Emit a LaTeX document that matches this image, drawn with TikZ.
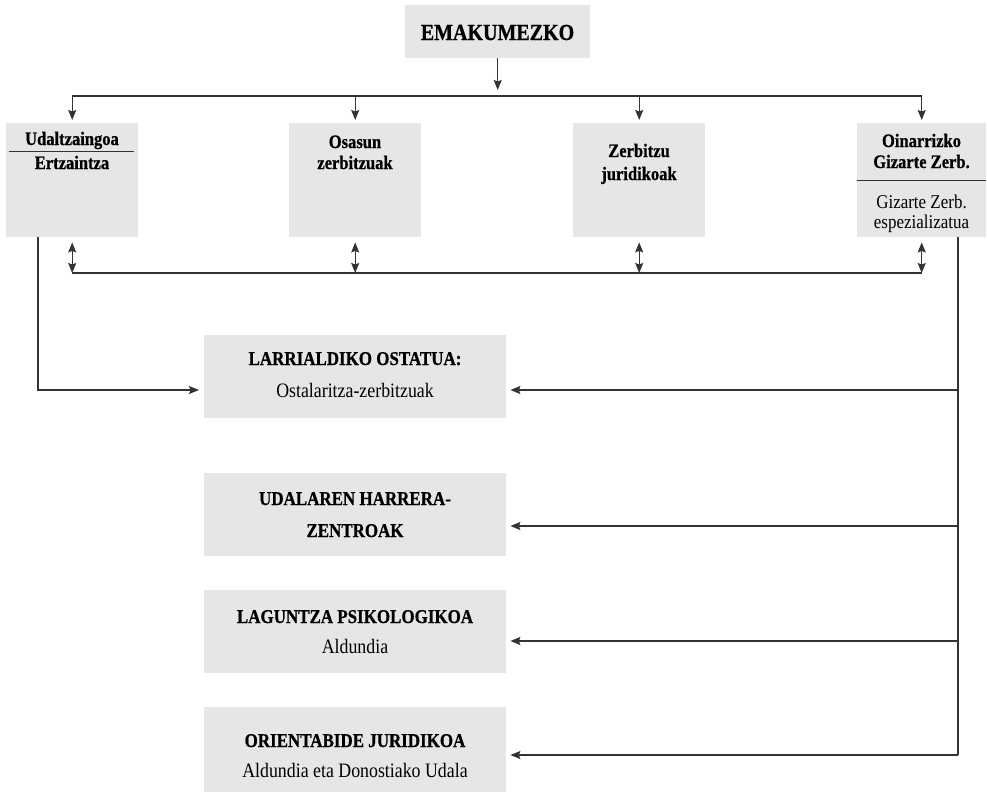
\documentclass[tikz,border=0pt]{standalone}
\usepackage{fontspec}
\setmainfont{Liberation Serif}[FakeStretch=0.87, BoldFeatures={FakeBold=0.7}]
\usetikzlibrary{arrows.meta}
\definecolor{boxgray}{HTML}{E6E6E6}
\definecolor{linegray}{HTML}{333333}
\begin{document}
\begin{tikzpicture}[x=1pt,y=-1pt,
  boxbg/.style={fill=boxgray, draw=none, inner sep=0pt, anchor=north west},
  topbox/.style={boxbg, minimum width=132pt, minimum height=114pt},
  lowbox/.style={boxbg, minimum width=302pt, minimum height=83pt},
  tbold/.style={font=\fontsize{19}{22}\selectfont\bfseries, inner sep=0pt, anchor=base},
  treg/.style={font=\fontsize{19.5}{22}\selectfont, inner sep=0pt, anchor=base},
  lbold/.style={font=\fontsize{19.5}{22}\selectfont\bfseries, inner sep=0pt, anchor=base},
  lreg/.style={font=\fontsize{20.5}{23}\selectfont, inner sep=0pt, anchor=base},
  conn/.style={draw=linegray, line width=1.2pt},
  tip/.style={-{Stealth[length=10pt,width=8pt,inset=1.5pt]}},
  dbl/.style={{Stealth[length=10pt,width=8pt,inset=1.5pt]}-{Stealth[length=10pt,width=8pt,inset=1.5pt]}},
  sep/.style={draw=linegray, line width=1pt}
  ]
\useasboundingbox (0,0) rectangle (987,803);

% top box
\node[boxbg, minimum width=185pt, minimum height=53pt] (emak) at (405,5) {};
\node[tbold, font=\fontsize{23}{26}\selectfont\bfseries] (emaktxt) at (497.5,40) {EMAKUMEZKO};

% four service boxes
\node[topbox] (b1) at (6,123) {};
\node[topbox] (b2) at (289,123) {};
\node[topbox] (b3) at (573,123) {};
\node[topbox, minimum width=129pt] (b4) at (857,123) {};

\node[tbold] (b1t1) at (72,145) {Udaltzaingoa};
\coordinate (s1a) at (9,151);
\coordinate (s1b) at (134,151);
\draw[sep] (s1a) -- (s1b);
\node[tbold] (b1t2) at (72,169) {Ertzaintza};

\node[tbold] (b2t1) at (355,148) {Osasun};
\node[tbold] (b2t2) at (355,169) {zerbitzuak};

\node[tbold] (b3t1) at (639,157) {Zerbitzu};
\node[tbold] (b3t2) at (639,180) {juridikoak};

\node[tbold] (b4t1) at (921.5,147) {Oinarrizko};
\node[tbold] (b4t2) at (921.5,168) {Gizarte Zerb.};
\coordinate (s4a) at (857,180);
\coordinate (s4b) at (986,180);
\draw[sep] (s4a) -- (s4b);
\node[treg] (b4t3) at (921.5,208) {Gizarte Zerb.};
\node[treg] (b4t4) at (921.5,228) {espezializatua};

% lower boxes
\node[lowbox] (l1) at (204,335) {};
\node[lowbox] (l2) at (204,473) {};
\node[lowbox] (l3) at (204,590) {};
\node[lowbox, minimum height=85pt] (l4) at (204,707) {};

\node[lbold] (l1t1) at (355,365) {LARRIALDIKO OSTATUA:};
\node[lreg]  (l1t2) at (355,397) {Ostalaritza-zerbitzuak};
\node[lbold] (l2t1) at (355,505) {UDALAREN HARRERA-};
\node[lbold] (l2t2) at (355,537) {ZENTROAK};
\node[lbold] (l3t1) at (355,623) {LAGUNTZA PSIKOLOGIKOA};
\node[lreg]  (l3t2) at (355,653) {Aldundia};
\node[lbold] (l4t1) at (355,747) {ORIENTABIDE JURIDIKOA};
\node[lreg]  (l4t2) at (355,777) {Aldundia eta Donostiako Udala};

% helper coordinates
\coordinate (bus) at (0,96);
\coordinate (bbus) at (0,273);
\coordinate (lx) at (38,0);
\coordinate (rx) at (958,0);
\coordinate (a1) at (0,390);
\coordinate (a2) at (0,526);
\coordinate (a3) at (0,641);
\coordinate (a4) at (0,755);

% top distribution
\draw[conn, tip, shorten >=6pt] (emak.south) -- (emak.south |- bus);
\draw[conn] (b1.north |- bus) -- (b4.north |- bus);
\foreach \b in {b1,b2,b3,b4}{
  \draw[conn, tip, shorten >=3pt] (\b.north |- bus) -- (\b.north);
}

% bottom bus with double arrows
\draw[conn] (b1.south |- bbus) -- (b4.south |- bbus);
\foreach \b in {b1,b2,b3,b4}{
  \draw[conn, dbl, shorten <=5pt] (\b.south) -- (\b.south |- bbus);
}

% left connector
\draw[conn, tip, shorten >=5pt] (b1.south -| lx) |- (l1.west |- a1);

% right connector
\draw[conn] (b4.south -| rx) -- (rx |- a4);
\draw[conn, tip, shorten >=4pt] (rx |- a1) -- (l1.east |- a1);
\draw[conn, tip, shorten >=4pt] (rx |- a2) -- (l2.east |- a2);
\draw[conn, tip, shorten >=4pt] (rx |- a3) -- (l3.east |- a3);
\draw[conn, tip, shorten >=4pt] (rx |- a4) -- (l4.east |- a4);
\end{tikzpicture}
\end{document}
